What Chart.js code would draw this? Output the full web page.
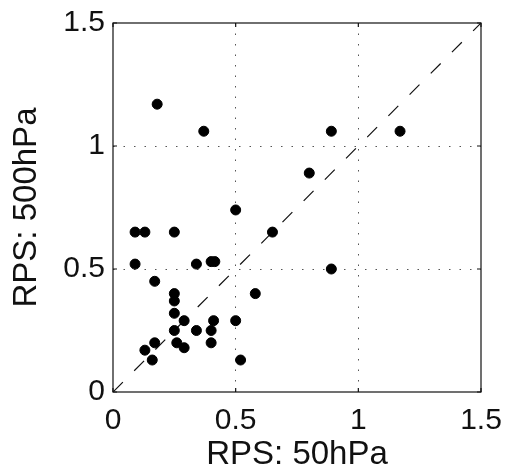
<!DOCTYPE html>
<html>
<head>
<meta charset="utf-8">
<script src="https://cdn.jsdelivr.net/npm/chart.js@4"></script>
<style>
  html, body { margin: 0; padding: 0; background: #fff; }
  #wrap { width: 507px; height: 471px; }
</style>
</head>
<body>
<div id="wrap"><canvas id="c" width="507" height="471"></canvas></div>
<script>
// RPS at 50hPa (x) vs RPS at 500hPa (y)
const rps50 = [0.18, 0.37, 0.89, 1.17, 0.80, 0.50,
  0.09, 0.13, 0.25, 0.65, 0.09, 0.34, 0.40, 0.415, 0.89,
  0.17, 0.58, 0.25, 0.25, 0.25, 0.29, 0.41, 0.50,
  0.25, 0.34, 0.40, 0.17, 0.26, 0.40, 0.29, 0.13, 0.16, 0.52];
const rps500 = [1.17, 1.06, 1.06, 1.06, 0.89, 0.74,
  0.65, 0.65, 0.65, 0.65, 0.52, 0.52, 0.53, 0.53, 0.50,
  0.45, 0.40, 0.40, 0.37, 0.32, 0.29, 0.29, 0.29,
  0.25, 0.25, 0.25, 0.20, 0.20, 0.20, 0.18, 0.17, 0.13, 0.13];
const diagonal = [0, 1.5];
const tickValues = [0, 0.5, 1, 1.5];
const xTitle = 'RPS: 50hPa';
const yTitle = 'RPS: 500hPa';

const points = rps50.map((x, i) => ({ x: x, y: rps500[i] }));
const diagPts = diagonal.map(v => ({ x: v, y: v }));

const FONT = 'Liberation Sans, Arial, Helvetica, sans-serif';
const INK = '#111';

const framePlugin = {
  id: 'frame',
  afterDatasetsDraw(chart) {
    const { ctx, chartArea: a, scales } = chart;
    ctx.save();
    ctx.strokeStyle = INK;
    ctx.lineWidth = 1.2;
    ctx.strokeRect(a.left, a.top, a.right - a.left, a.bottom - a.top);
    const L = 4;
    ctx.beginPath();
    tickValues.forEach(v => {
      const px = scales.x.getPixelForValue(v);
      ctx.moveTo(px, a.bottom); ctx.lineTo(px, a.bottom - L);
      ctx.moveTo(px, a.top); ctx.lineTo(px, a.top + L);
      const py = scales.y.getPixelForValue(v);
      ctx.moveTo(a.left, py); ctx.lineTo(a.left + L, py);
      ctx.moveTo(a.right, py); ctx.lineTo(a.right - L, py);
    });
    ctx.stroke();
    ctx.restore();
  }
};

const gridColor = (ctx) => {
  const v = ctx.tick ? ctx.tick.value : null;
  return (v === 0 || v === 1.5) ? 'rgba(0,0,0,0)' : '#555';
};

new Chart(document.getElementById('c'), {
  type: 'scatter',
  data: {
    datasets: [
      {
        type: 'line',
        data: diagPts,
        borderColor: INK,
        borderWidth: 1.2,
        borderDash: [14, 16],
        pointRadius: 0,
        fill: false,
        order: 2
      },
      {
        data: points,
        backgroundColor: '#000',
        borderColor: '#000',
        pointRadius: 5,
        pointHoverRadius: 5,
        order: 1
      }
    ]
  },
  options: {
    responsive: false,
    animation: false,
    events: [],
    layout: { padding: { top: 23, right: 26, left: 0, bottom: 0 } },
    plugins: { legend: { display: false }, tooltip: { enabled: false } },
    scales: {
      x: {
        type: 'linear', min: 0, max: 1.5,
        afterBuildTicks: (s) => { s.ticks = tickValues.map(v => ({ value: v })); },
        afterFit: (s) => { s.height = 79; s.paddingLeft = 0; s.paddingRight = 0; },
        grid: { color: gridColor, lineWidth: 1, drawTicks: false },
        border: { display: false, dash: [1.5, 9] },
        ticks: {
          color: INK, padding: 11, maxRotation: 0,
          font: { family: FONT, size: 30 },
          callback: (v) => String(v)
        },
        title: {
          display: true, text: xTitle, color: INK, padding: { top: 0, bottom: 0 },
          font: { family: FONT, size: 33, lineHeight: 1 }
        }
      },
      y: {
        type: 'linear', min: 0, max: 1.5,
        afterBuildTicks: (s) => { s.ticks = tickValues.map(v => ({ value: v })); },
        afterFit: (s) => { s.width = 113; s.paddingTop = 0; s.paddingBottom = 0; },
        grid: { color: gridColor, lineWidth: 1, drawTicks: false },
        border: { display: false, dash: [1.5, 9] },
        ticks: {
          color: INK, padding: 8,
          font: { family: FONT, size: 30 },
          callback: (v) => String(v)
        },
        title: {
          display: true, text: yTitle, color: INK, padding: { top: 10, bottom: 0 },
          font: { family: FONT, size: 33, lineHeight: 1 }
        }
      }
    }
  },
  plugins: [framePlugin]
});
</script>
</body>
</html>
